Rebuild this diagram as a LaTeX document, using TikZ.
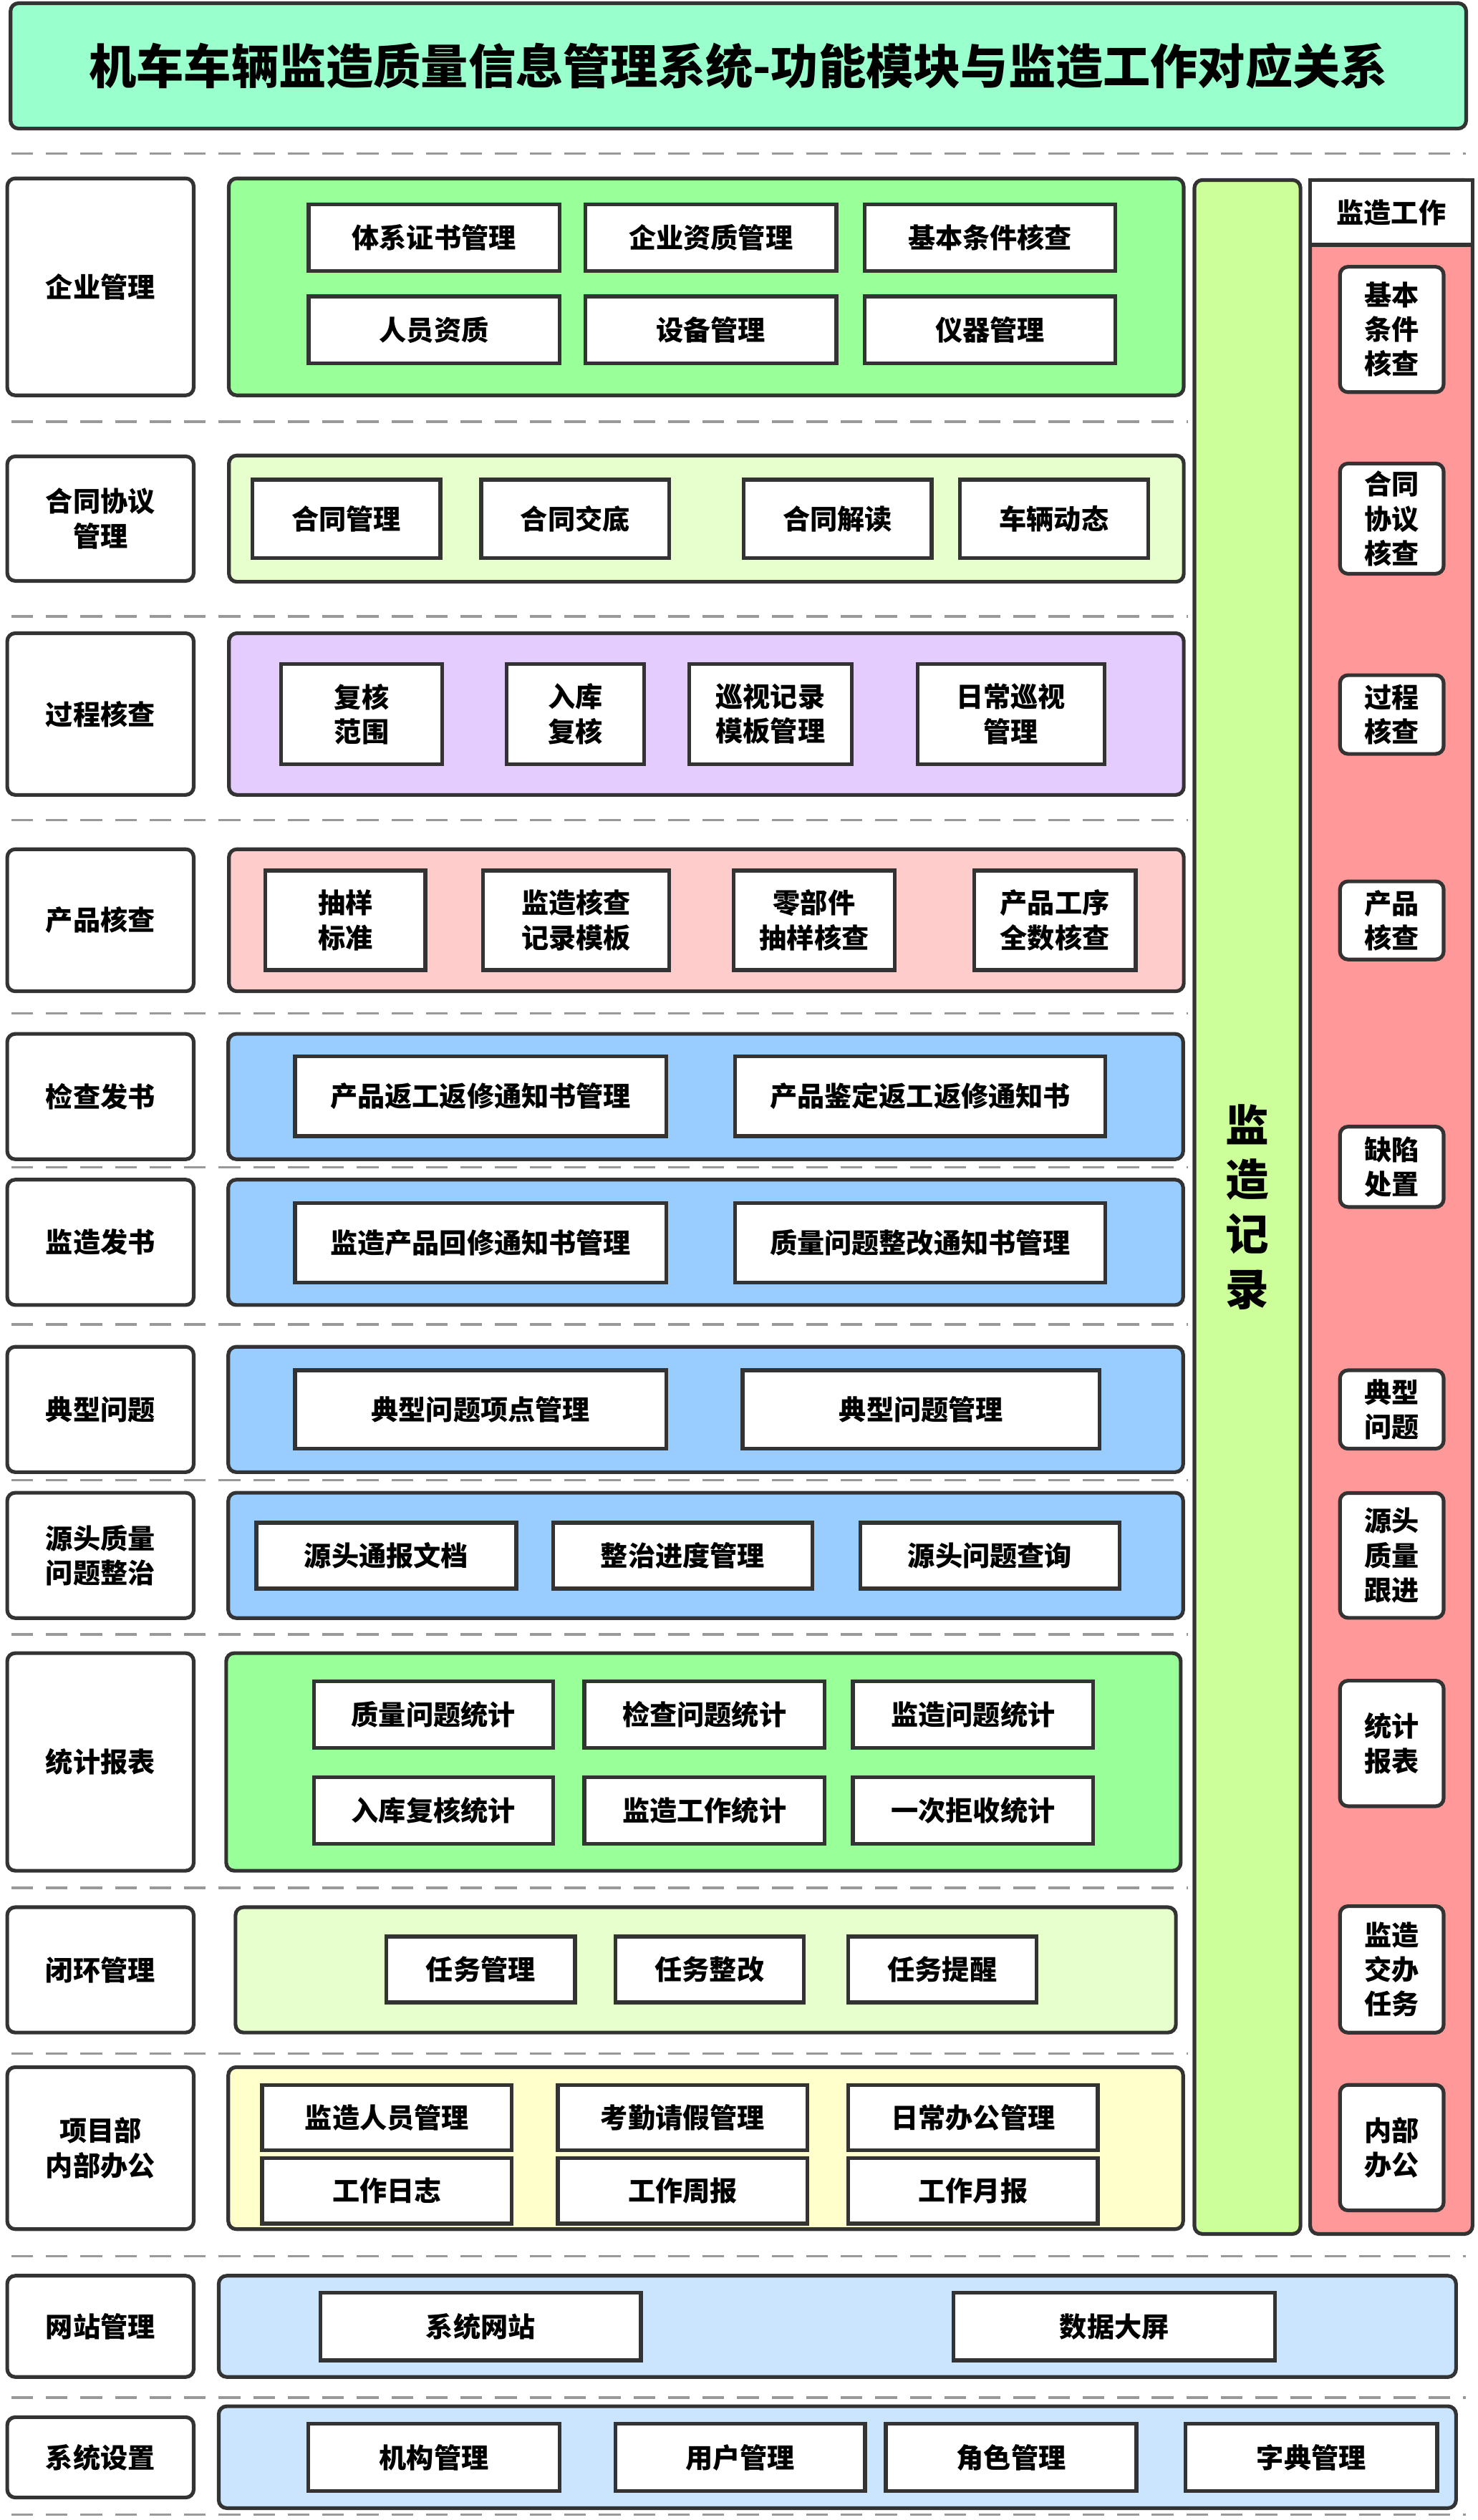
\documentclass[tikz,border=0pt]{standalone}
\usepackage{fontspec}
\setmainfont{Noto Sans CJK SC}[BoldFont={Noto Sans CJK SC Black}]
\usepackage{xcolor}
\usepackage{tikz}
\usetikzlibrary{positioning}

\definecolor{edge}{HTML}{333333}
\definecolor{dashgray}{HTML}{999999}
\definecolor{titlefill}{HTML}{99FFCC}
\definecolor{greenfill}{HTML}{99FF99}
\definecolor{palegreen}{HTML}{E6FFCC}
\definecolor{lavender}{HTML}{E5CCFF}
\definecolor{rosefill}{HTML}{FFCCCC}
\definecolor{bluefill}{HTML}{99CCFF}
\definecolor{creamfill}{HTML}{FFFFCC}
\definecolor{skyfill}{HTML}{CCE5FF}
\definecolor{limefill}{HTML}{CCFF99}
\definecolor{redfill}{HTML}{FF9999}

\newcommand{\boxfont}{\fontsize{17}{21.5}\selectfont\bfseries}
\newcommand{\headfont}{\fontsize{29.5}{34}\selectfont\bfseries}
\newcommand{\colfont}{\fontsize{27}{34}\selectfont\bfseries}

\begin{document}
\begin{tikzpicture}[
    x=1pt, y=-1pt,
    rowname/.style={draw=edge, fill=white, line width=2.3pt, rounded corners=5pt, align=center, font=\boxfont, minimum width=116pt, inner sep=0pt},
    panel/.style={draw=edge, line width=2.3pt, rounded corners=5pt, align=center, minimum width=594pt, inner sep=0pt},
    item/.style={draw=edge, fill=white, line width=2.4pt, align=center, font=\boxfont, inner sep=0pt},
    pill/.style={draw=edge, fill=white, line width=2.3pt, rounded corners=5pt, align=center, font=\boxfont, minimum width=64.5pt, inner sep=0pt},
    divider/.style={draw=dashgray, line width=1.5pt, dash pattern=on 13.5pt off 8pt},
]
    \useasboundingbox (0,0) rectangle (919,1568);

    % Title
    \node[panel, fill=titlefill, minimum width=905.5pt, minimum height=78pt, font=\headfont] (title) at (459.3,41) {机车车辆监造质量信息管理系统-功能模块与监造工作对应关系};

    % Dividers
    \draw[divider] (7,95.5) -- (912,95.5);
    \draw[divider] (7,262.4) -- (739,262.4);
    \draw[divider] (7,383.5) -- (739,383.5);
    \draw[divider] (7,510.2) -- (739,510.2);
    \draw[divider] (7,630.5) -- (739,630.5);
    \draw[divider] (7,726.3) -- (739,726.3);
    \draw[divider] (7,824) -- (739,824);
    \draw[divider] (7,921.1) -- (739,921.1);
    \draw[divider] (7,1017) -- (739,1017);
    \draw[divider] (7,1174.6) -- (739,1174.6);
    \draw[divider] (7,1277.7) -- (739,1277.7);
    \draw[divider] (7,1403.7) -- (912,1403.7);
    \draw[divider] (7,1491.8) -- (912,1491.8);
    \draw[divider] (7,1564.6) -- (912,1564.6);

    % Row 1
    \node[rowname, minimum height=135pt] (ent) at (62.5,178.5) {企业管理};
    \node[panel, fill=greenfill, minimum height=135pt] (entpan) at (439.3,178.5) {};
    \node[item, minimum width=156pt, minimum height=41.5pt] (ent1) at (270,147.9) {体系证书管理};
    \node[item, minimum width=156pt, minimum height=41.5pt] (ent2) at (442.2,147.9) {企业资质管理};
    \node[item, minimum width=156pt, minimum height=41.5pt] (ent3) at (615.9,147.9) {基本条件核查};
    \node[item, minimum width=156pt, minimum height=41.5pt] (ent4) at (270,205.2) {人员资质};
    \node[item, minimum width=156pt, minimum height=41.5pt] (ent5) at (442.2,205.2) {设备管理};
    \node[item, minimum width=156pt, minimum height=41.5pt] (ent6) at (615.9,205.2) {仪器管理};

    % Row 2
    \node[rowname, minimum height=77.5pt] (con) at (62.5,322.7) {合同协议\\管理};
    \node[panel, fill=palegreen, minimum height=78.6pt] (conpan) at (439.4,322.7) {};
    \node[item, minimum width=117pt, minimum height=48.8pt] (con1) at (215.4,322.8) {合同管理};
    \node[item, minimum width=117pt, minimum height=48.8pt] (con2) at (357.8,322.8) {合同交底};
    \node[item, minimum width=117pt, minimum height=48.8pt] (con3) at (521,322.8) {合同解读};
    \node[item, minimum width=117pt, minimum height=48.8pt] (con4) at (655.7,322.8) {车辆动态};

    % Row 3
    \node[rowname, minimum height=100.6pt] (pro) at (62.5,444.3) {过程核查};
    \node[panel, fill=lavender, minimum height=100.6pt] (propan) at (439.4,444.3) {};
    \node[item, minimum width=100.4pt, minimum height=62.5pt] (pro1) at (225,444.3) {复核\\范围};
    \node[item, minimum width=85.5pt, minimum height=62.5pt] (pro2) at (358,444.3) {入库\\复核};
    \node[item, minimum width=100.9pt, minimum height=62.5pt] (pro3) at (479.3,444.3) {巡视记录\\模板管理};
    \node[item, minimum width=116.3pt, minimum height=62.5pt] (pro4) at (628.9,444.3) {日常巡视\\管理};

    % Row 4
    \node[rowname, minimum height=88.4pt] (prd) at (62.5,572.6) {产品核查};
    \node[panel, fill=rosefill, minimum height=88.4pt] (prdpan) at (439.4,572.6) {};
    \node[item, minimum width=99.6pt, minimum height=62pt] (prd1) at (214.8,572.6) {抽样\\标准};
    \node[item, minimum width=115.9pt, minimum height=62pt] (prd2) at (358.3,572.6) {监造核查\\记录模板};
    \node[item, minimum width=100.4pt, minimum height=62pt] (prd3) at (506.5,572.6) {零部件\\抽样核查};
    \node[item, minimum width=100.4pt, minimum height=62pt] (prd4) at (656.2,572.6) {产品工序\\全数核查};

    % Row 5
    \node[rowname, minimum height=78pt] (chk) at (62.5,682.3) {检查发书};
    \node[panel, fill=bluefill, minimum height=78pt] (chkpan) at (439,682.3) {};
    \node[item, minimum width=231pt, minimum height=49.6pt] (chk1) at (299,682.1) {产品返工返修通知书管理};
    \node[item, minimum width=230.4pt, minimum height=49.6pt] (chk2) at (572.4,682.1) {产品鉴定返工返修通知书};

    % Row 6
    \node[rowname, minimum height=78pt] (sup) at (62.5,773) {监造发书};
    \node[panel, fill=bluefill, minimum height=78pt] (suppan) at (439,773) {};
    \node[item, minimum width=231pt, minimum height=49.3pt] (sup1) at (299,773.3) {监造产品回修通知书管理};
    \node[item, minimum width=230.4pt, minimum height=49.3pt] (sup2) at (572.4,773.3) {质量问题整改通知书管理};

    % Row 7
    \node[rowname, minimum height=78pt] (typ) at (62.5,877) {典型问题};
    \node[panel, fill=bluefill, minimum height=78pt] (typpan) at (439,877) {};
    \node[item, minimum width=231pt, minimum height=48.8pt] (typ1) at (299,877) {典型问题项点管理};
    \node[item, minimum width=222pt, minimum height=48.8pt] (typ2) at (573,877) {典型问题管理};

    % Row 8
    \node[rowname, minimum height=78pt] (src) at (62.5,967.8) {源头质量\\问题整治};
    \node[panel, fill=bluefill, minimum height=78pt] (srcpan) at (439,967.8) {};
    \node[item, minimum width=161.8pt, minimum height=41pt] (src1) at (240.3,967.9) {源头通报文档};
    \node[item, minimum width=161.3pt, minimum height=41pt] (src2) at (424.7,967.9) {整治进度管理};
    \node[item, minimum width=161.2pt, minimum height=41pt] (src3) at (615.8,967.9) {源头问题查询};

    % Row 9
    \node[rowname, minimum height=135.4pt] (sta) at (62.5,1096.3) {统计报表};
    \node[panel, fill=greenfill, minimum width=593.8pt, minimum height=135.4pt] (stapan) at (437.6,1096.3) {};
    \node[item, minimum width=148.8pt, minimum height=41.5pt] (sta1) at (269.6,1066.8) {质量问题统计};
    \node[item, minimum width=149.5pt, minimum height=41.5pt] (sta2) at (438.2,1066.8) {检查问题统计};
    \node[item, minimum width=149.5pt, minimum height=41.5pt] (sta3) at (605.3,1066.8) {监造问题统计};
    \node[item, minimum width=148.8pt, minimum height=41.5pt] (sta4) at (269.6,1126.5) {入库复核统计};
    \node[item, minimum width=149.5pt, minimum height=41.5pt] (sta5) at (438.2,1126.5) {监造工作统计};
    \node[item, minimum width=149.5pt, minimum height=41.5pt] (sta6) at (605.3,1126.5) {一次拒收统计};

    % Row 10
    \node[rowname, minimum height=78pt] (loop) at (62.5,1225.7) {闭环管理};
    \node[panel, fill=palegreen, minimum width=585pt, minimum height=78pt] (looppan) at (439,1225.7) {};
    \node[item, minimum width=117.3pt, minimum height=41pt] (loop1) at (299,1225.5) {任务管理};
    \node[item, minimum width=117.2pt, minimum height=41pt] (loop2) at (441.4,1225.5) {任务整改};
    \node[item, minimum width=117.2pt, minimum height=41pt] (loop3) at (586.2,1225.5) {任务提醒};

    % Row 11
    \node[rowname, minimum height=100.8pt] (off) at (62.5,1336.6) {项目部\\内部办公};
    \node[panel, fill=creamfill, minimum height=100.8pt] (offpan) at (439,1336.6) {};
    \node[item, minimum width=155.3pt, minimum height=40.6pt] (off1) at (240.7,1317.6) {监造人员管理};
    \node[item, minimum width=155.3pt, minimum height=40.6pt] (off2) at (424.7,1317.6) {考勤请假管理};
    \node[item, minimum width=155.3pt, minimum height=40.6pt] (off3) at (605.3,1317.6) {日常办公管理};
    \node[item, minimum width=155.3pt, minimum height=40.6pt] (off4) at (240.7,1363.2) {工作日志};
    \node[item, minimum width=155.3pt, minimum height=40.6pt] (off5) at (424.7,1363.2) {工作周报};
    \node[item, minimum width=155.3pt, minimum height=40.6pt] (off6) at (605.3,1363.2) {工作月报};

    % Monitoring record column
    \node[panel, fill=limefill, minimum width=66pt, minimum height=1278pt, font=\colfont] (rec) at (776,751) {监\\造\\记\\录};

    % Monitoring work column
    \node[panel, fill=redfill, minimum width=101pt, minimum height=1278pt] (work) at (865.5,751) {};
    \node[item, minimum width=101pt, minimum height=40.3pt] (workhead) at (865.5,132.2) {监造工作};
    \node[pill, minimum height=78pt] (work1) at (865.8,205) {基本\\条件\\核查};
    \node[pill, minimum height=68.6pt] (work2) at (865.8,322.7) {合同\\协议\\核查};
    \node[pill, minimum height=49pt] (work3) at (865.8,444.6) {过程\\核查};
    \node[pill, minimum height=48.6pt] (work4) at (865.8,572.7) {产品\\核查};
    \node[pill, minimum height=50pt] (work5) at (865.8,726) {缺陷\\处置};
    \node[pill, minimum height=48.8pt] (work6) at (865.8,877) {典型\\问题};
    \node[pill, minimum height=77.7pt] (work7) at (865.8,967.8) {源头\\质量\\跟进};
    \node[pill, minimum height=78.1pt] (work8) at (865.8,1084.8) {统计\\报表};
    \node[pill, minimum height=78.7pt] (work9) at (865.8,1225.4) {监造\\交办\\任务};
    \node[pill, minimum height=78.1pt] (work10) at (865.8,1336.3) {内部\\办公};

    % Website
    \node[rowname, minimum height=63pt] (web) at (62.5,1447.5) {网站管理};
    \node[panel, fill=skyfill, minimum width=769.7pt, minimum height=63pt] (webpan) at (520.9,1447.5) {};
    \node[item, minimum width=199.3pt, minimum height=42pt] (web1) at (299,1447.6) {系统网站};
    \node[item, minimum width=200pt, minimum height=42pt] (web2) at (693.2,1447.6) {数据大屏};

    % System settings
    \node[rowname, minimum height=50pt] (sys) at (62.5,1529) {系统设置};
    \node[panel, fill=skyfill, minimum width=769.7pt, minimum height=63.4pt] (syspan) at (520.9,1528.9) {};
    \node[item, minimum width=156.5pt, minimum height=42pt] (sys1) at (270,1529) {机构管理};
    \node[item, minimum width=155.3pt, minimum height=42pt] (sys2) at (460.5,1529) {用户管理};
    \node[item, minimum width=156pt, minimum height=42pt] (sys3) at (629,1529) {角色管理};
    \node[item, minimum width=156.5pt, minimum height=42pt] (sys4) at (815.7,1529) {字典管理};
\end{tikzpicture}
\end{document}
